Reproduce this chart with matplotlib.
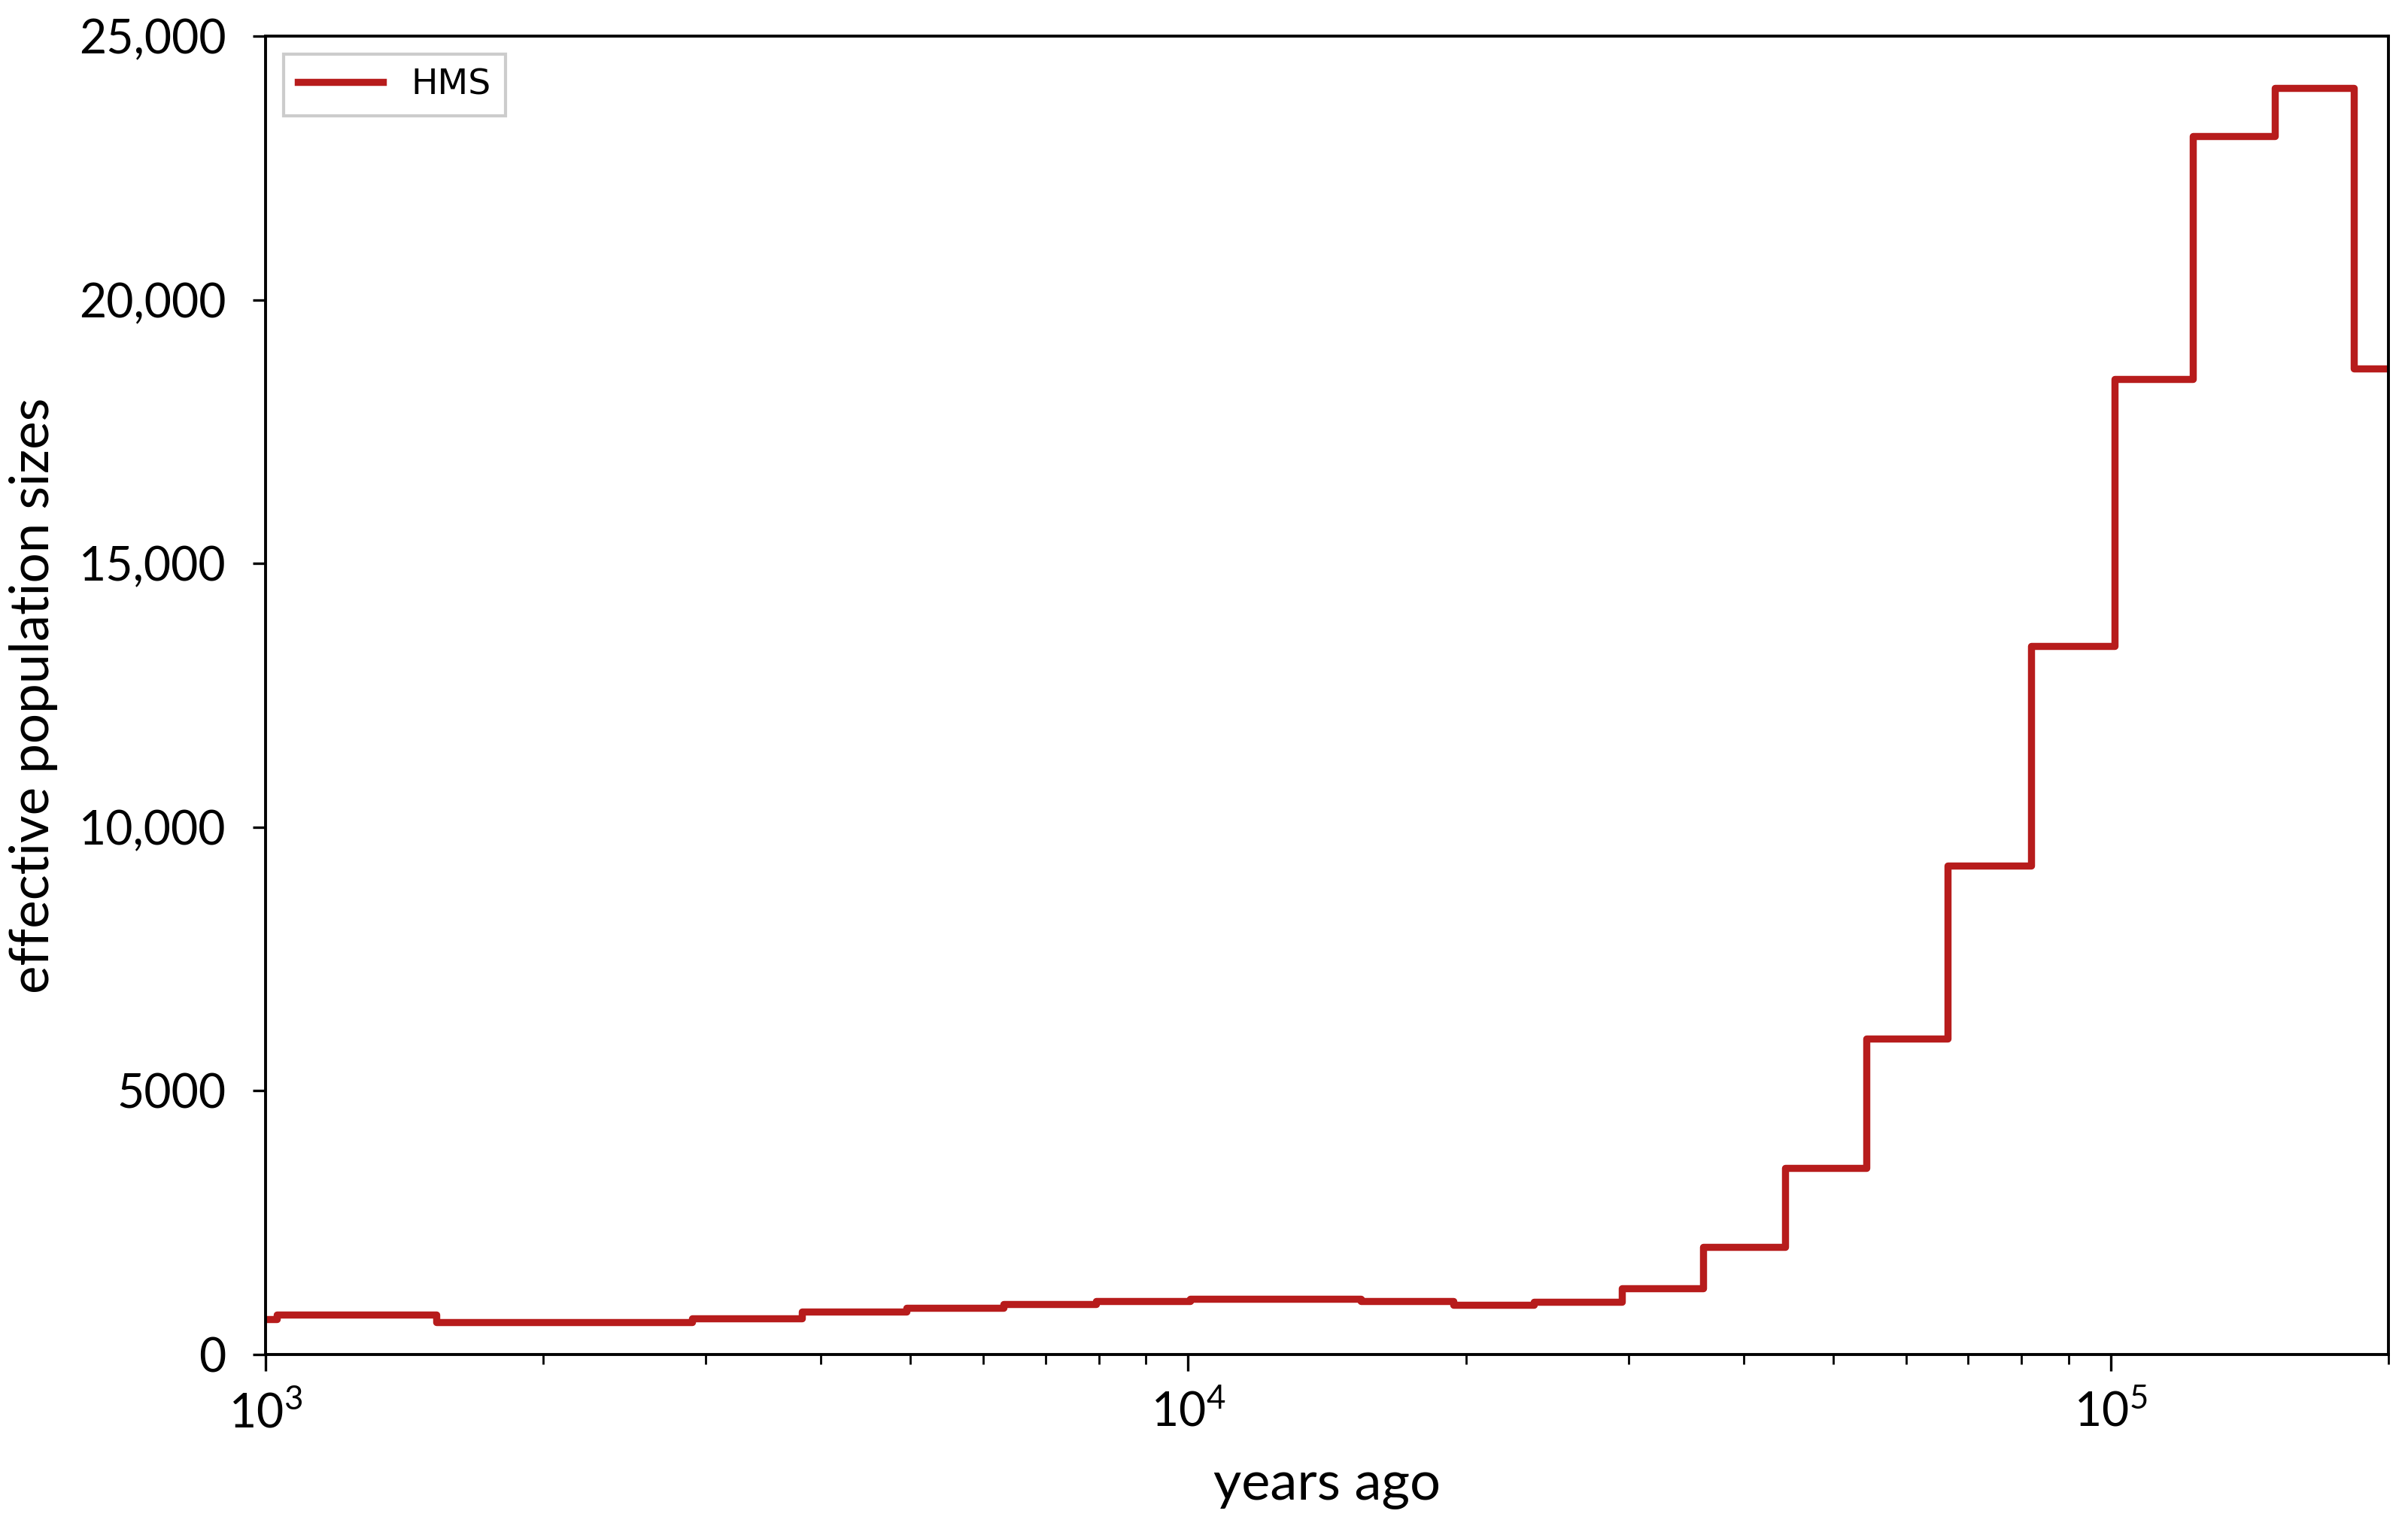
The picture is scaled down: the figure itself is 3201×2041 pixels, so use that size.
import matplotlib
matplotlib.use("Agg")
import matplotlib.pyplot as plt
from matplotlib.ticker import FixedLocator, FixedFormatter, LogLocator, NullFormatter

# Data (step function, left edges of time intervals in years ago)
times = [900, 1028, 1530, 2900, 3810, 4950, 6310, 7950, 10040, 15400, 19400,
         23700, 29500, 36150, 44330, 54330, 66600, 81900, 100900, 122800,
         150500, 183300, 230000]
ne = [670, 755, 617, 690, 810, 880, 950, 1010, 1050, 1010, 935, 1005, 1255,
      2035, 3530, 5990, 9270, 13430, 18500, 23100, 24010, 18690, 18690]
series_label = "HMS"

y_ticks = [0, 5000, 10000, 15000, 20000, 25000]
y_tick_labels = ["0", "5000", "10,000", "15,000", "20,000", "25,000"]
x_ticks = [1e3, 1e4, 1e5]
x_tick_labels = [r"$\mathregular{10^{3}}$", r"$\mathregular{10^{4}}$", r"$\mathregular{10^{5}}$"]

LABEL_FONT = "Lato"
plt.rcParams["mathtext.fontset"] = "custom"
plt.rcParams["mathtext.rm"] = LABEL_FONT

fig = plt.figure(figsize=(3201 / 200, 2041 / 200), dpi=200)
ax = fig.add_axes([0.1103, 0.1176, 0.9919 - 0.1103, 0.9765 - 0.1176])

ax.step(times, ne, where="post", color="#b71c1c", linewidth=3.4, label=series_label)

ax.set_xscale("log")
ax.set_xlim(1000, 200000)
ax.set_ylim(0, 25000)

ax.yaxis.set_major_locator(FixedLocator(y_ticks))
ax.yaxis.set_major_formatter(FixedFormatter(y_tick_labels))
ax.xaxis.set_major_locator(FixedLocator(x_ticks))
ax.xaxis.set_major_formatter(FixedFormatter(x_tick_labels))
ax.xaxis.set_minor_locator(LogLocator(base=10, subs=range(2, 10)))
ax.xaxis.set_minor_formatter(NullFormatter())

for lab in ax.get_yticklabels() + ax.get_xticklabels():
    lab.set_fontfamily(LABEL_FONT)
    lab.set_fontsize(22.5)

ax.tick_params(axis="y", which="major", length=6, width=1.2, pad=13)
ax.tick_params(axis="x", which="major", length=8, width=1.2, pad=9)
ax.tick_params(axis="x", which="minor", length=4.5, width=1.0)

for sp in ax.spines.values():
    sp.set_linewidth(1.4)

ax.set_xlabel("years ago", fontfamily=LABEL_FONT, fontsize=26, labelpad=12)
ax.set_ylabel("effective population sizes", fontfamily=LABEL_FONT, fontsize=25.5, labelpad=10)

leg = ax.legend(loc="upper left", fontsize=17, handlelength=2.4, fancybox=False,
                edgecolor="#cccccc", framealpha=1.0)
leg.get_frame().set_linewidth(1.5)

fig.savefig("out.png", dpi=200)
